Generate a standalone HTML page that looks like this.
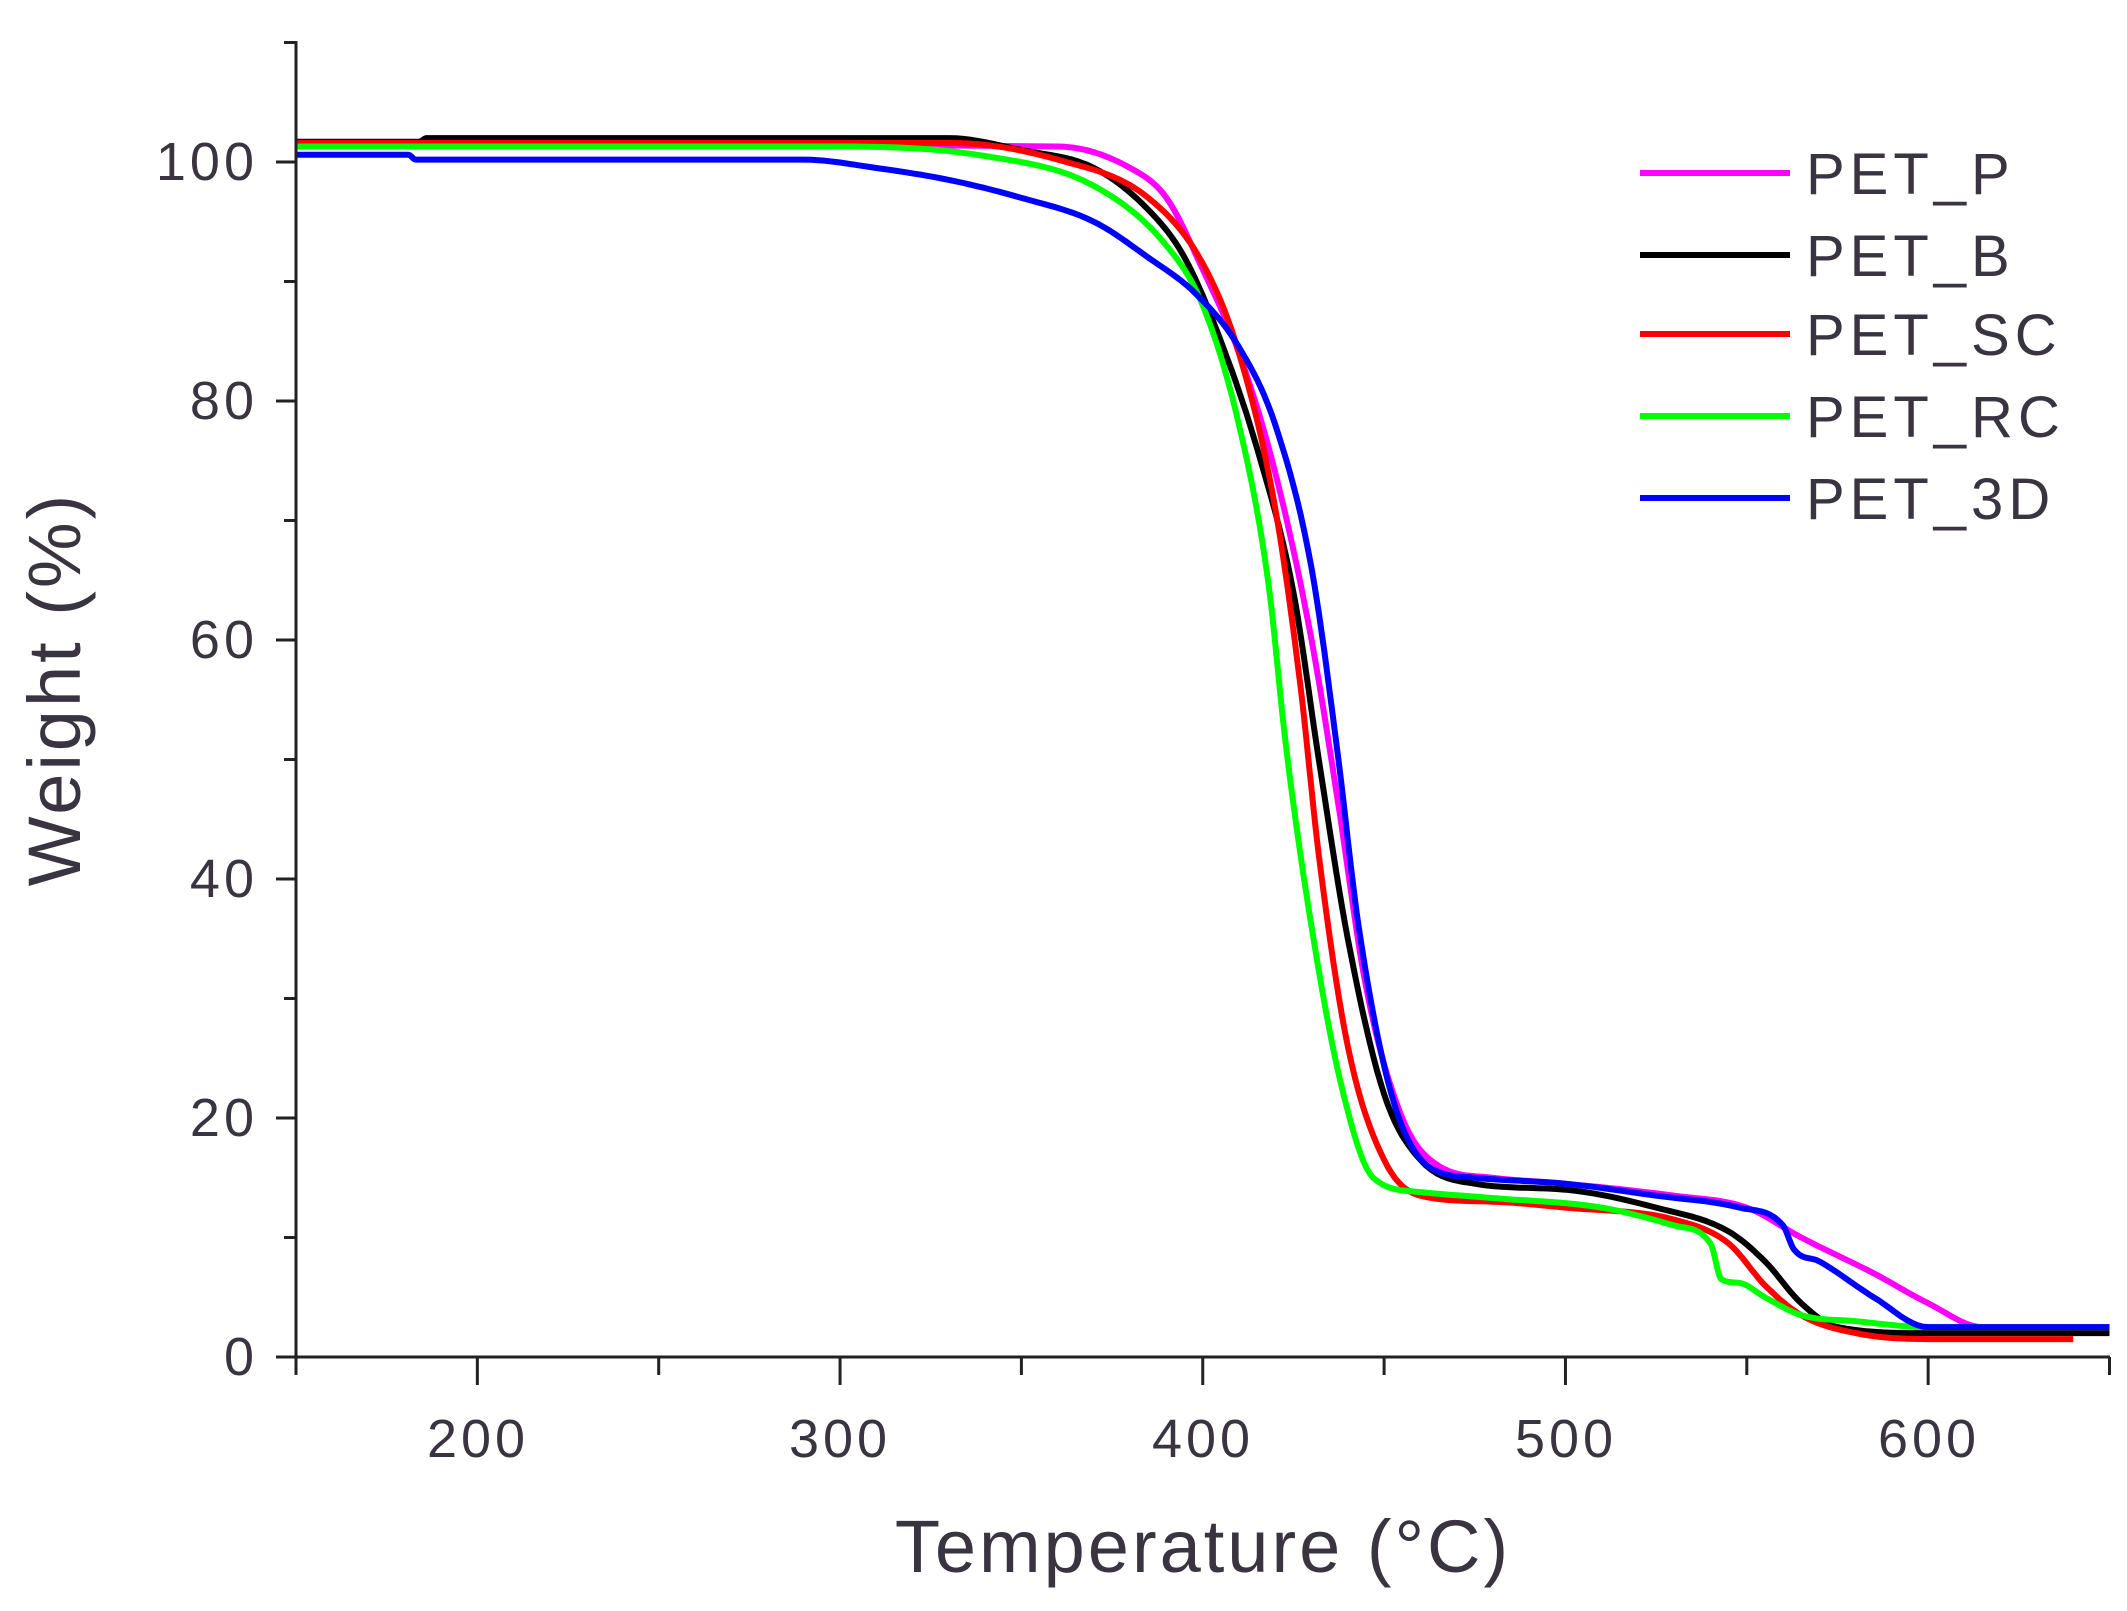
<!DOCTYPE html>
<html><head><meta charset="utf-8"><style>
html,body{margin:0;padding:0;background:#fff;}
svg{display:block;}
text{font-family:"Liberation Sans",Arial,sans-serif;fill:#3a3340;}
</style></head><body>
<svg id="s" width="2127" height="1611" viewBox="0 0 2127 1611" xmlns="http://www.w3.org/2000/svg">
<g id="curves" fill="none" stroke-width="6" stroke-linejoin="round"></g>
<g stroke="#222" stroke-width="3" fill="none">
<line x1="296" y1="41" x2="296" y2="1359"/>
<line x1="294" y1="1357" x2="2110" y2="1357"/>
<g id="ticks"></g>
</g>
<g font-size="54" text-anchor="end" letter-spacing="4">
<text x="258" y="180">100</text>
<text x="258" y="419">80</text>
<text x="258" y="658">60</text>
<text x="258" y="897">40</text>
<text x="258" y="1136">20</text>
<text x="258" y="1375">0</text>
</g>
<g font-size="54" text-anchor="middle" letter-spacing="4">
<text x="478" y="1457">200</text>
<text x="840" y="1457">300</text>
<text x="1203" y="1457">400</text>
<text x="1566" y="1457">500</text>
<text x="1929" y="1457">600</text>
</g>
<text x="1203" y="1572" font-size="74" text-anchor="middle" letter-spacing="3">Temperature (°C)</text>
<text transform="translate(80,689) rotate(-90)" font-size="74" text-anchor="middle" letter-spacing="3">Weight (%)</text>
<g stroke-width="6">
<line x1="1640" y1="173" x2="1790" y2="173" stroke="#ff00ff"/>
<line x1="1640" y1="255" x2="1790" y2="255" stroke="#000"/>
<line x1="1640" y1="334" x2="1790" y2="334" stroke="#ff0000"/>
<line x1="1640" y1="416" x2="1790" y2="416" stroke="#00ff00"/>
<line x1="1640" y1="498" x2="1790" y2="498" stroke="#0000ff"/>
</g>
<g font-size="58" letter-spacing="5">
<text x="1806" y="194">PET_P</text>
<text x="1806" y="276">PET_B</text>
<text x="1806" y="355">PET_SC</text>
<text x="1806" y="437">PET_RC</text>
<text x="1806" y="519">PET_3D</text>
</g>
</svg>
<script>
function X(t){return 296+(t-150)*3.627;}
function Y(w){return 1357-w*11.95;}
var series=[
["#ff00ff",[[150,101.5],[360,101.3],[380,99.5],[390,97],[400,91],[410,84],[420,74],[430,60],[437,47],[445,31],[455,20],[465,16],[480,15],[500,14.5],[530,13.5],[550,12.5],[565,10],[585,7],[600,4.5],[615,2.5],[650,2.5]]],
["#000000",[[150,101.7],[184,101.7],[186,102],[330,102],[350,101],[370,99.5],[385,96],[395,92],[405,85],[415,76],[425,64],[432,50],[440,35],[450,22],[460,16.5],[475,14.5],[500,14],[525,12.5],[545,10.5],[555,8],[565,4.5],[575,2.5],[600,2],[650,2]]],
["#ff0000",[[150,101.6],[330,101.6],[360,100.2],[385,97],[400,91.5],[410,84],[420,71],[427,56],[432,42],[440,26],[450,16.5],[460,13.5],[480,13],[500,12.5],[530,11.5],[545,9.5],[555,6],[565,3.5],[580,2],[600,1.5],[640,1.5]]],
["#00ff00",[[150,101.3],[300,101.3],[340,100.5],[370,98],[390,93],[400,88],[410,78],[418,65],[423,51],[430,36],[438,23],[447,15],[460,13.8],[480,13.3],[510,12.5],[530,11],[540,9.5],[543,6.5],[548,6.2],[555,5],[565,3.5],[580,3],[600,2.5],[650,2.5]]],
["#0000ff",[[150,100.6],[181,100.6],[183,100.2],[290,100.2],[310,99.5],[330,98.5],[350,97],[370,95],[385,92],[398,89],[410,84.5],[420,78],[430,66],[437,51],[443,36],[452,22],[462,16],[475,15],[500,14.5],[525,13.5],[548,12.5],[560,11],[563,9],[570,8],[585,5],[600,2.5],[650,2.5]]]
];
function mono(pts){var n=pts.length,x=pts.map(p=>p[0]),y=pts.map(p=>p[1]),d=[],m=[];
for(var i=0;i<n-1;i++)d.push((y[i+1]-y[i])/(x[i+1]-x[i]));
m[0]=d[0];m[n-1]=d[n-2];
for(i=1;i<n-1;i++){m[i]=(d[i-1]*d[i]<=0)?0:(d[i-1]+d[i])/2;}
for(i=0;i<n-1;i++){if(d[i]==0){m[i]=0;m[i+1]=0;continue;}var a=m[i]/d[i],b=m[i+1]/d[i],s=a*a+b*b;if(s>9){var t=3/Math.sqrt(s);m[i]=t*a*d[i];m[i+1]=t*b*d[i];}}
var out=[];
for(i=0;i<n-1;i++){var h=x[i+1]-x[i];for(var k=0;k<10;k++){var t=k/10,t2=t*t,t3=t2*t;
var v=(2*t3-3*t2+1)*y[i]+(t3-2*t2+t)*h*m[i]+(-2*t3+3*t2)*y[i+1]+(t3-t2)*h*m[i+1];out.push([x[i]+t*h,v]);}}
out.push(pts[n-1]);return out;}
var g=document.getElementById('curves'),ns="http://www.w3.org/2000/svg";
series.forEach(function(s){var p=document.createElementNS(ns,'polyline');
p.setAttribute('stroke',s[0]);p.setAttribute('points',mono(s[1]).map(function(q){return X(q[0]).toFixed(1)+','+Y(q[1]).toFixed(1);}).join(' '));g.appendChild(p);});
var tk=document.getElementById('ticks'),h='';
for(var w=0;w<=110;w+=10){var y=Y(w),L=(w%20==0)?20:12;h+='<line x1="'+(296-L)+'" y1="'+y+'" x2="296" y2="'+y+'"/>';}
for(var t=150;t<=650;t+=50){var x=X(t),L=(t%100==0)?28:18;h+='<line x1="'+x+'" y1="1357" x2="'+x+'" y2="'+(1357+L)+'"/>';}
tk.innerHTML=h;
</script>
</body></html>
